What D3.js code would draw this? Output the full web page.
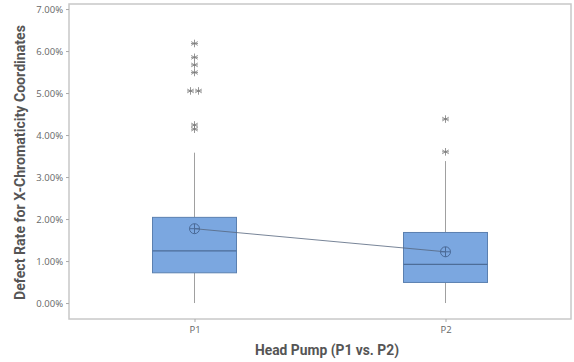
<!DOCTYPE html>
<html>
<head>
<meta charset="utf-8">
<script src="https://cdn.jsdelivr.net/npm/d3@7"></script>
<style>
  html, body { margin: 0; padding: 0; background: #fff; }
  svg { display: block; }
</style>
</head>
<body>
<svg id="chart" width="574" height="362"></svg>
<script>
// Defect rate (%) summary per head pump
const pumps = ["P1", "P2"];
const q1 = [0.72, 0.49];
const median = [1.24, 0.92];
const q3 = [2.04, 1.68];
const whiskerLow = [0.0, 0.0];
const whiskerHigh = [3.58, 3.38];
const mean = [1.77, 1.22];
const outliers = [
  [6.18, 5.85, 5.67, 5.49, 5.05, 5.05, 4.24, 4.14],
  [4.38, 3.60]
];
const yTicks = [0, 1, 2, 3, 4, 5, 6, 7];

(function () {
const svg = d3.select("#chart");
const plotL = 69, plotR = 571, plotT = 4, plotB = 319;

const x = d3.scalePoint().domain(pumps).range([plotL, plotR]).padding(0.5);
const y = d3.scaleLinear().domain([-0.38, 7.12]).range([plotB, plotT]);

const boxW = 84;

// frame
svg.append("rect")
  .attr("x", plotL).attr("y", plotT)
  .attr("width", plotR - plotL).attr("height", plotB - plotT)
  .attr("fill", "none").attr("stroke", "#c8c8c8").attr("stroke-width", 1.5);

// y axis
const yAxis = svg.append("g")
  .attr("transform", `translate(${plotL},0)`)
  .call(d3.axisLeft(y).tickValues(yTicks).tickSize(3).tickPadding(3)
    .tickFormat(d => d.toFixed(2) + "%"));
yAxis.select(".domain").remove();
yAxis.selectAll(".tick line").attr("stroke", "#aaa");
yAxis.selectAll(".tick text")
  .attr("fill", "#666").style("font-family", "'Open Sans', sans-serif").style("font-size", "9.5px");

// x axis
const xAxis = svg.append("g")
  .attr("transform", `translate(0,${plotB})`)
  .call(d3.axisBottom(x).tickSize(3).tickPadding(4));
xAxis.select(".domain").remove();
xAxis.selectAll(".tick line").attr("stroke", "#aaa");
xAxis.selectAll(".tick text")
  .attr("fill", "#666").style("font-family", "'Open Sans', sans-serif").style("font-size", "9.5px");

const data = pumps.map((p, i) => ({
  p, q1: q1[i], med: median[i], q3: q3[i],
  lo: whiskerLow[i], hi: whiskerHigh[i], mean: mean[i], out: outliers[i]
}));

const g = svg.append("g");

// whiskers
data.forEach(d => {
  const cx = x(d.p);
  g.append("line").attr("x1", cx).attr("x2", cx)
    .attr("y1", y(d.q3)).attr("y2", y(d.hi))
    .attr("stroke", "#a0a0a0").attr("stroke-width", 1);
  g.append("line").attr("x1", cx).attr("x2", cx)
    .attr("y1", y(d.q1)).attr("y2", y(d.lo))
    .attr("stroke", "#a0a0a0").attr("stroke-width", 1);
});

// boxes
g.selectAll("rect.box").data(data).join("rect")
  .attr("class", "box")
  .attr("x", d => x(d.p) - boxW / 2)
  .attr("y", d => y(d.q3))
  .attr("width", boxW)
  .attr("height", d => y(d.q1) - y(d.q3))
  .attr("fill", "#7ba7e0")
  .attr("stroke", "#5b80b0").attr("stroke-width", 1);

// medians
g.selectAll("line.med").data(data).join("line")
  .attr("class", "med")
  .attr("x1", d => x(d.p) - boxW / 2).attr("x2", d => x(d.p) + boxW / 2)
  .attr("y1", d => y(d.med)).attr("y2", d => y(d.med))
  .attr("stroke", "#4d6d98").attr("stroke-width", 1.2);

// mean connect line
g.append("path")
  .datum(data)
  .attr("d", d3.line().x(d => x(d.p)).y(d => y(d.mean)))
  .attr("fill", "none").attr("stroke", "#56667e").attr("stroke-width", 0.8);

// mean symbols (circle with cross)
const r = 5;
data.forEach(d => {
  const cx = x(d.p), cy = y(d.mean);
  g.append("circle").attr("cx", cx).attr("cy", cy).attr("r", r)
    .attr("fill", "none").attr("stroke", "#4a6a98").attr("stroke-width", 1);
  g.append("line").attr("x1", cx - r).attr("x2", cx + r).attr("y1", cy).attr("y2", cy)
    .attr("stroke", "#4a6a98").attr("stroke-width", 1);
  g.append("line").attr("x1", cx).attr("x2", cx).attr("y1", cy - r).attr("y2", cy + r)
    .attr("stroke", "#4a6a98").attr("stroke-width", 1);
});

// outliers as asterisks; identical values are spread side by side
const star = d3.symbol().type(d3.symbolAsterisk).size(40);
data.forEach(d => {
  const counts = d3.rollup(d.out, v => v.length, v => v);
  const seen = new Map();
  d.out.forEach(v => {
    const n = counts.get(v);
    const k = seen.get(v) || 0;
    seen.set(v, k + 1);
    const dx = (k - (n - 1) / 2) * 8;
    const sx = x(d.p) + dx, sy = y(v);
    g.append("path")
      .attr("d", star())
      .attr("transform", `translate(${sx},${sy})`)
      .attr("fill", "none").attr("stroke", "#7a7a7a").attr("stroke-width", 0.8);
    g.append("line")
      .attr("x1", sx - 3.5).attr("x2", sx + 3.5).attr("y1", sy).attr("y2", sy)
      .attr("stroke", "#7a7a7a").attr("stroke-width", 0.8);
  });
});

// axis titles
svg.append("text")
  .attr("x", (plotL + plotR) / 2 + 7).attr("y", 355)
  .attr("text-anchor", "middle")
  .attr("fill", "#555")
  .style("font-family", "Roboto, sans-serif").style("font-size", "15px").style("font-weight", "bold")
  .attr("textLength", 144).attr("lengthAdjust", "spacingAndGlyphs")
  .text("Head Pump (P1 vs. P2)");

svg.append("text")
  .attr("transform", `translate(25,${(25 + 300) / 2}) rotate(-90)`)
  .attr("text-anchor", "middle")
  .attr("fill", "#555")
  .style("font-family", "Roboto, sans-serif").style("font-size", "15px").style("font-weight", "bold")
  .attr("textLength", 275).attr("lengthAdjust", "spacingAndGlyphs")
  .text("Defect Rate for X-Chromaticity Coordinates");
})();
</script>
</body>
</html>
